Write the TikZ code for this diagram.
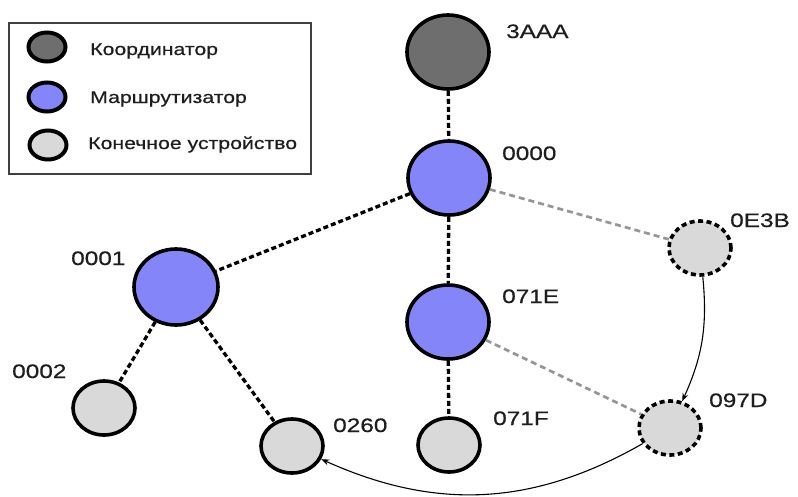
\documentclass[tikz,border=0pt]{standalone}
\usepackage{fontspec}
\setmainfont{Liberation Sans}[FakeStretch=1.25, FakeBold=0.6]
\usetikzlibrary{shapes.geometric,arrows.meta}

\definecolor{coordfill}{RGB}{110,110,110}
\definecolor{routerfill}{RGB}{133,133,250}
\definecolor{devfill}{RGB}{217,217,217}
\definecolor{linkgray}{RGB}{150,150,150}
\definecolor{textdark}{RGB}{30,30,30}

\begin{document}
\begin{tikzpicture}[x=1pt, y=1pt,
  dev/.style={ellipse, draw, line width=3.6pt, inner sep=0pt, minimum width=62pt, minimum height=54pt, fill=devfill},
  big/.style={dev, minimum width=82pt, minimum height=74pt},
  coord/.style={big, fill=coordfill},
  router/.style={big, fill=routerfill},
  mobile/.style={dev, dash pattern=on 5pt off 3.5pt},
  key/.style={ellipse, draw, line width=4pt, inner sep=0pt, minimum width=37pt, minimum height=29pt},
  addr/.style={anchor=base west, text=textdark, inner sep=0pt, font=\fontsize{19.5}{21}\selectfont},
  keytext/.style={anchor=base west, text=textdark, inner sep=0pt, font=\fontsize{17}{19}\selectfont},
  link/.style={line width=3.3pt, dash pattern=on 5pt off 3pt},
  lost/.style={line width=2.7pt, linkgray, dash pattern=on 6pt off 4pt},
  move/.style={-{Stealth[length=8pt,width=6pt]}, line width=1.1pt},
  >=Stealth]
  \useasboundingbox (0,0) rectangle (798,-496);

  % legend
  \node (legend) [draw=black!75, line width=1.5pt, anchor=north west, minimum width=302pt, minimum height=151pt] at (8,-22) {};
  \node (kcoord) [key, fill=coordfill] at (47,-47) {};
  \node (krouter) [key, fill=routerfill] at (47,-97) {};
  \node (kdev) [key, fill=devfill] at (48,-145) {};
  \node (tcoord) [keytext] at (90,-55) {Координатор};
  \node (trouter) [keytext] at (90,-103) {Маршрутизатор};
  \node (tdev) [keytext] at (88,-149) {Конечное устройство};

  % network
  \node (n3AAA) [coord] at (448,-52) {};
  \node (n0000) [router] at (449,-178) {};
  \node (n071E) [router] at (448,-322) {};
  \node (n0001) [router, minimum width=84pt, minimum height=76pt] at (176,-287) {};
  \node (n0E3B) [mobile] at (700,-248) {};
  \node (n097D) [mobile] at (670,-428) {};
  \node (n071F) [dev] at (449,-445) {};
  \node (n0002) [dev] at (104,-408) {};
  \node (n0260) [dev] at (292,-446) {};

  \node (l3AAA) [addr] at (506,-38) {3AAA};
  \node (l0000) [addr] at (502,-160) {0000};
  \node (l0E3B) [addr] at (730,-227) {0E3B};
  \node (l071E) [addr] at (502,-303) {071E};
  \node (l071F) [addr] at (493,-425) {071F};
  \node (l097D) [addr] at (709,-407) {097D};
  \node (l0001) [addr] at (71,-265) {0001};
  \node (l0002) [addr] at (12,-378) {0002};
  \node (l0260) [addr] at (333,-432) {0260};

  \draw[link] (n3AAA) -- (n0000);
  \draw[link] (n0000) -- (n0001);
  \draw[link] (n0000) -- (n071E);
  \draw[link] (n071E) -- (n071F);
  \draw[link] (n0001) -- (n0002);
  \draw[link] (n0001) -- (n0260);
  \draw[lost] (n0000) -- (n0E3B);
  \draw[lost] (n071E) -- (n097D);

  \draw[move] (n0E3B) to[bend left=15] (n097D);
  \draw[move] (n097D) to[bend left=27] (n0260);
\end{tikzpicture}
\end{document}
